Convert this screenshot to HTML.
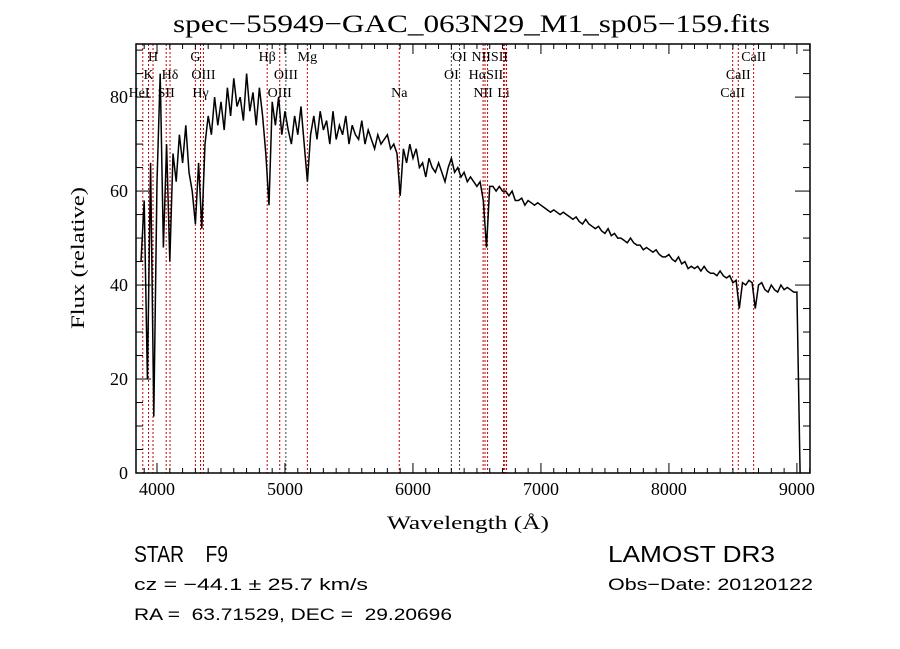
<!DOCTYPE html>
<html><head><meta charset="utf-8"><style>
html,body{margin:0;padding:0;background:#fff;}
svg{display:block;}
text{fill:#000;white-space:pre;}
.ser{font-family:"Liberation Serif",serif;}
.san{font-family:"Liberation Sans",sans-serif;}
</style></head><body>
<svg id="chart" width="900" height="649" viewBox="0 0 900 649" xmlns="http://www.w3.org/2000/svg" xml:space="preserve">
<rect x="0" y="0" width="900" height="649" fill="#fff"/>
<text class="ser" x="173" y="32" font-size="25" textLength="597" lengthAdjust="spacingAndGlyphs">spec−55949−GAC_063N29_M1_sp05−159.fits</text>
<g id="lines"></g>
<g id="labels"></g>
<g id="plot"></g>
<g id="axes"></g>
<text class="ser" x="468" y="529" font-size="19" text-anchor="middle" textLength="162" lengthAdjust="spacingAndGlyphs">Wavelength (Å)</text>
<text class="ser" x="84" y="258" font-size="19" text-anchor="middle" transform="rotate(-90 84 258)" textLength="142" lengthAdjust="spacingAndGlyphs">Flux (relative)</text>
<text class="san" x="134" y="562" font-size="23" textLength="94" lengthAdjust="spacingAndGlyphs">STAR    F9</text>
<text class="san" x="608" y="562" font-size="23" textLength="167" lengthAdjust="spacingAndGlyphs">LAMOST DR3</text>
<text class="san" x="134" y="590" font-size="17" textLength="234" lengthAdjust="spacingAndGlyphs">cz = −44.1 ± 25.7 km/s</text>
<text class="san" x="608" y="590" font-size="17" textLength="205" lengthAdjust="spacingAndGlyphs">Obs−Date: 20120122</text>
<text class="san" x="134" y="620" font-size="17" textLength="318" lengthAdjust="spacingAndGlyphs">RA =  63.71529, DEC =  29.20696</text>
</svg>
<script>
const lam0 = 3875;
const lamStep = 25;
const flux = [45,58,20,66,12,62,85,48,70,45,68,62,72,66,
74,64,60,53,66,52,70,76,72,80,74,79,73,82,76,84,78,80,75,85,77,81,74,82,76,68,57,79,74,80,72,77,73,70,76,72,78,70,62,72,76,71,77,73,75,70,77,71,74,72,76,70,74,72,71,75,70,73,71,69,72,70,71,72,69,70,68,59,69,66,70,67,69,65,66,63,67,65,64,66,64,62,65,67,64,65,63,64,62,63,62,61,62,58,48,61,61,60,61,60,60,59,60,58,58,58.5,57,58,57.5,57,57.5,57,56.5,56,55.5,56,55.5,55,55.5,55,54.5,54,54.5,53.5,53,54,53,52.5,52,52.5,51.5,51,52,50.5,51,50,50,49.5,49,50,49,48.5,48.5,47.5,48,47.5,47,47.5,46.5,46,46,46.5,45.5,45,46,44.5,45,43.5,44,43.5,44,43,44,43,42.5,42.5,42,43,42,41.5,42,40.5,41,35,40.5,40,41,40.5,35,40,40.5,39,38.5,40,39,38.5,40,39,39.5,39,38.5,38.5,0];
const lineWaves = [3889,3934,3969,4072,4102,4300,4340,4363,4861,4959,5007,5175,5893,6300,6364,6548,6563,6583,6708,6717,6731,8498,8542,8662];
const lineColor = ["#c00000","#c00000","#c00000","#c00000","#c00000","#c00000","#c00000","#c00000","#c00000","#c00000","#404040","#c00000","#c00000","#404040","#404040","#c00000","#c00000","#c00000","#c00000","#c00000","#c00000","#c00000","#c00000","#c00000"];
const labelText = ["H","G","Hβ","Mg","OI","NIISII","CaII","K","Hδ","OIII","OIII","OI","HαSII","CaII","HeI","SII","Hγ","OIII","Na","NII","Li","CaII"];
const labelWave = [3969,4300,4861,5175,6364,6600,8662,3934,4102,4363,5007,6300,6570,8542,3860,4072,4340,4959,5893,6548,6708,8498];
const labelRow = [0,0,0,0,0,0,0,1,1,1,1,1,1,1,2,2,2,2,2,2,2,2];
const xTicks = [4000,5000,6000,7000,8000,9000];
const yTicks = [0,20,40,60,80];

const X0=136,X1=810,Y0=44,Y1=473;
const LMIN=3836.0,LMAX=9102.3,FMIN=0,FMAX=91.3;
function xs(l){return X0+(l-LMIN)/(LMAX-LMIN)*(X1-X0);}
function ys(f){return Y1-(f-FMIN)/(FMAX-FMIN)*(Y1-Y0);}
const NS="http://www.w3.org/2000/svg";
function mk(tag,attrs,parent){const e=document.createElementNS(NS,tag);for(const k in attrs)e.setAttribute(k,attrs[k]);parent.appendChild(e);return e;}

const gL=document.getElementById('lines');
lineWaves.forEach((w,i)=>{
  const l=mk('line',{x1:xs(w),x2:xs(w),y1:Y0,y2:Y1,stroke:lineColor[i],'stroke-width':1,'stroke-dasharray':'2,2'},gL);
  
  
});
const gT=document.getElementById('labels');
const rowY=[61,79,97];
labelText.forEach((t,i)=>{
  const e=mk('text',{x:xs(labelWave[i]),y:rowY[labelRow[i]],'font-size':14,'text-anchor':'middle','class':'ser'},gT);
  e.textContent=t;
  
  
});
const gP=document.getElementById('plot');
let d='';
flux.forEach((f,i)=>{const l=lam0+i*lamStep;d+=(i?'L':'M')+xs(l).toFixed(1)+','+ys(f).toFixed(1);});
const path=mk('path',{d:d,fill:'none',stroke:'#000','stroke-width':1.5,'stroke-linejoin':'miter'},gP);



const gA=document.getElementById('axes');
const fr=mk('rect',{x:X0,y:Y0,width:X1-X0,height:Y1-Y0,fill:'none',stroke:'#000','stroke-width':1.5},gA);


for(let l=3900;l<=9100;l+=100){
  const maj=l%1000===0, len=maj?10:5, x=xs(l);
  mk('line',{x1:x,x2:x,y1:Y1,y2:Y1-len,stroke:'#000'},gA);
  mk('line',{x1:x,x2:x,y1:Y0,y2:Y0+len,stroke:'#000'},gA);
}
xTicks.forEach(v=>{
  const t=mk('text',{x:xs(v),y:Y1+22,'font-size':18,'text-anchor':'middle','class':'ser'},gA);
  t.textContent=v;
  
  
});
for(let f=0;f<=90;f+=5){
  const maj=f%20===0, len=maj?15:7, y=ys(f);
  mk('line',{x1:X0,x2:X0+len,y1:y,y2:y,stroke:'#000'},gA);
  mk('line',{x1:X1,x2:X1-len,y1:y,y2:y,stroke:'#000'},gA);
}
yTicks.forEach(v=>{
  const t=mk('text',{x:X0-8,y:ys(v)+6,'font-size':18,'text-anchor':'end','class':'ser'},gA);
  t.textContent=v;
  
  
});
</script>
</body></html>
